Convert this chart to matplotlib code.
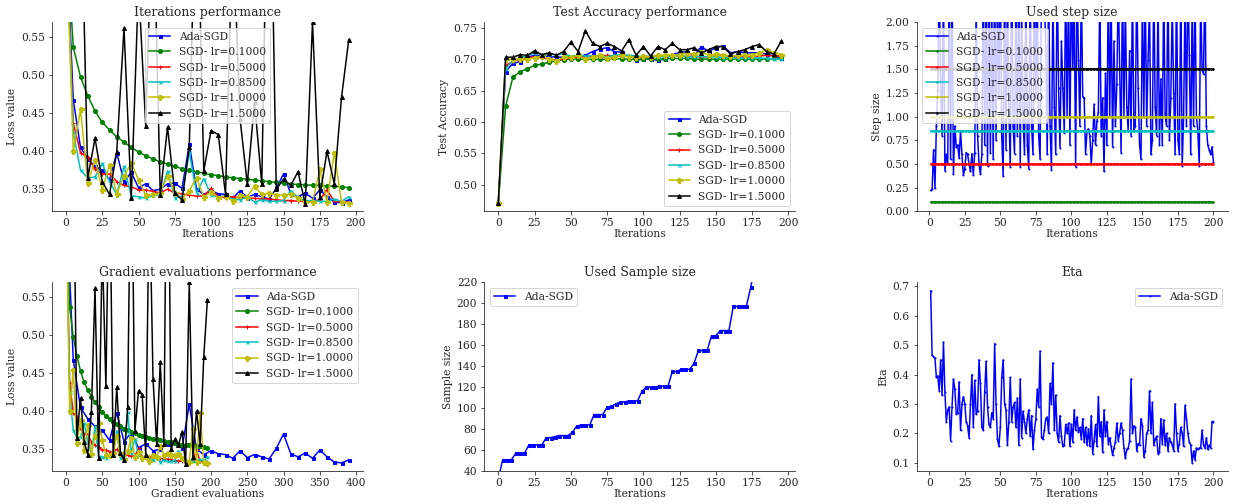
import matplotlib.pyplot as plt
import numpy as np
from matplotlib.ticker import MultipleLocator

plt.rcParams['font.family'] = ['DejaVu Serif']
plt.rcParams['font.size'] = 10.7
plt.rcParams['axes.titlesize'] = 12.5
for key in ['text.color', 'axes.labelcolor', 'xtick.color', 'ytick.color', 'axes.edgecolor']:
    plt.rcParams[key] = '.15'

# ---- data ----
LABELS = ['Ada-SGD', 'SGD- lr=0.1000', 'SGD- lr=0.5000', 'SGD- lr=0.8500',
          'SGD- lr=1.0000', 'SGD- lr=1.5000']
SGD_LRS = [0.1, 0.5, 0.85, 1.0, 1.5]

iterations = list(range(0, 200, 5))
ada_grad_evals = list(range(0, 400, 10))

loss_ada = [0.693, 0.468, 0.405, 0.39, 0.38, 0.375, 0.362, 0.398, 0.36, 0.372,
            0.352, 0.357, 0.348, 0.35, 0.357, 0.358, 0.351, 0.409, 0.35, 0.343,
            0.348, 0.344, 0.343, 0.338, 0.348, 0.339, 0.343, 0.34, 0.337, 0.351,
            0.37, 0.344, 0.34, 0.345, 0.338, 0.349, 0.34, 0.333, 0.332, 0.336]
loss_sgd_01 = [0.693, 0.537, 0.498, 0.473, 0.453, 0.438, 0.428, 0.419, 0.412, 0.405,
               0.399, 0.394, 0.39, 0.386, 0.383, 0.38, 0.377, 0.375, 0.373, 0.371,
               0.369, 0.368, 0.366, 0.365, 0.364, 0.363, 0.362, 0.361, 0.36, 0.359,
               0.358, 0.357, 0.356, 0.356, 0.355, 0.355, 0.354, 0.354, 0.353, 0.352]
loss_sgd_05 = [0.693, 0.437, 0.398, 0.392, 0.376, 0.37, 0.37, 0.36, 0.355, 0.353,
               0.349, 0.349, 0.347, 0.345, 0.35, 0.345, 0.344, 0.342, 0.341, 0.341,
               0.351, 0.34, 0.339, 0.34, 0.339, 0.338, 0.338, 0.337, 0.337, 0.336,
               0.335, 0.335, 0.334, 0.334, 0.334, 0.336, 0.349, 0.334, 0.333, 0.333]
loss_sgd_085 = [0.693, 0.425, 0.375, 0.365, 0.366, 0.384, 0.36, 0.343, 0.38, 0.341,
                0.34, 0.338, 0.342, 0.342, 0.374, 0.339, 0.34, 0.399, 0.345, 0.364,
                0.342, 0.34, 0.341, 0.337, 0.336, 0.34, 0.333, 0.336, 0.334, 0.334,
                0.335, 0.348, 0.339, 0.335, 0.335, 0.334, 0.334, 0.337, 0.334, 0.34]
loss_sgd_1 = [0.693, 0.4, 0.455, 0.358, 0.389, 0.349, 0.382, 0.344, 0.367, 0.385,
              0.362, 0.342, 0.343, 0.345, 0.368, 0.345, 0.337, 0.348, 0.365, 0.34,
              0.346, 0.339, 0.341, 0.334, 0.342, 0.34, 0.354, 0.343, 0.345, 0.342,
              0.342, 0.344, 0.338, 0.333, 0.333, 0.376, 0.333, 0.398, 0.333, 0.332]
loss_sgd_15 = [0.693, 0.95, 0.78, 0.365, 0.417, 0.36, 0.343, 0.399, 0.562, 0.338,
               0.62, 0.433, 0.75, 0.342, 0.432, 0.345, 0.336, 0.405, 0.8, 0.374,
               0.427, 0.422, 0.343, 0.7, 0.443, 0.357, 0.465, 0.357, 0.9, 0.35,
               0.363, 0.355, 0.373, 0.33, 0.57, 0.34, 0.4, 0.357, 0.471, 0.547]

acc_ada = [0.472, 0.68, 0.693, 0.696, 0.703, 0.706, 0.705, 0.704, 0.703, 0.703,
           0.705, 0.705, 0.706, 0.712, 0.716, 0.718, 0.712, 0.711, 0.703, 0.698,
           0.7, 0.7, 0.698, 0.7, 0.708, 0.71, 0.712, 0.706, 0.72, 0.712,
           0.718, 0.721, 0.71, 0.712, 0.71, 0.71, 0.71, 0.708, 0.705, 0.702]
acc_sgd_01 = [0.472, 0.625, 0.671, 0.68, 0.685, 0.69, 0.692, 0.695, 0.697, 0.699,
              0.7, 0.7, 0.7, 0.7, 0.7, 0.7, 0.701, 0.7, 0.7, 0.7,
              0.7, 0.7, 0.7, 0.7, 0.701, 0.701, 0.701, 0.7, 0.7, 0.7,
              0.7, 0.7, 0.7, 0.7, 0.7, 0.7, 0.7, 0.7, 0.701, 0.701]
acc_sgd_05 = [0.472, 0.69, 0.696, 0.7, 0.702, 0.704, 0.702, 0.7, 0.698, 0.7,
              0.702, 0.703, 0.704, 0.705, 0.704, 0.706, 0.705, 0.704, 0.705, 0.704,
              0.703, 0.704, 0.705, 0.704, 0.706, 0.705, 0.704, 0.705, 0.703, 0.704,
              0.705, 0.706, 0.704, 0.703, 0.704, 0.703, 0.705, 0.706, 0.705, 0.705]
acc_sgd_085 = [0.472, 0.685, 0.697, 0.702, 0.705, 0.71, 0.707, 0.708, 0.707, 0.708,
               0.705, 0.706, 0.705, 0.705, 0.705, 0.704, 0.706, 0.707, 0.706, 0.705,
               0.704, 0.705, 0.703, 0.704, 0.705, 0.706, 0.704, 0.703, 0.705, 0.703,
               0.704, 0.702, 0.703, 0.701, 0.702, 0.701, 0.702, 0.701, 0.7, 0.7]
acc_sgd_1 = [0.472, 0.7, 0.7, 0.7, 0.7, 0.702, 0.705, 0.7, 0.697, 0.703,
             0.703, 0.706, 0.7, 0.703, 0.706, 0.701, 0.703, 0.706, 0.703, 0.703,
             0.705, 0.703, 0.706, 0.706, 0.707, 0.707, 0.71, 0.708, 0.712, 0.706,
             0.708, 0.706, 0.705, 0.706, 0.706, 0.707, 0.71, 0.715, 0.71, 0.707]
acc_sgd_15 = [0.472, 0.703, 0.703, 0.707, 0.706, 0.713, 0.707, 0.71, 0.706, 0.712,
              0.727, 0.712, 0.745, 0.725, 0.72, 0.725, 0.72, 0.713, 0.731, 0.706,
              0.72, 0.705, 0.72, 0.715, 0.725, 0.715, 0.715, 0.718, 0.71, 0.715,
              0.72, 0.72, 0.708, 0.712, 0.715, 0.72, 0.723, 0.712, 0.708, 0.728]

step_iters = list(range(1, 201))
step_ada = [0.22, 0.23, 0.65, 0.24, 0.9, 1.28, 2.5, 1.4, 0.8, 2.4,
            0.43, 0.6, 0.5, 2.3, 0.55, 2.6, 0.39, 0.9, 0.68, 0.7,
            0.56, 0.85, 0.6, 0.38, 0.45, 0.62, 0.6, 0.5, 0.42, 0.61,
            0.38, 0.62, 2.2, 0.8, 0.5, 0.39, 0.6, 2.5, 0.7, 2.4,
            0.48, 2.6, 0.62, 2.2, 0.55, 2.5, 0.75, 2.3, 1.2, 2.6,
            0.8, 0.37, 2.5, 0.65, 2.4, 1.1, 0.47, 2.6, 0.9, 0.61,
            2.3, 0.8, 2.5, 0.47, 2.2, 1.0, 0.6, 2.4, 0.7, 0.45,
            2.5, 0.9, 0.6, 2.6, 1.2, 2.3, 0.8, 0.55, 2.5, 2.4,
            2.2, 1.75, 0.6, 2.5, 0.9, 0.44, 2.3, 1.1, 0.6, 2.6,
            1.3, 0.67, 1.8, 1.3, 0.83, 2.5, 1.0, 2.4, 0.7, 2.6,
            1.5, 2.2, 0.47, 2.5, 1.6, 0.9, 2.4, 1.21, 1.2, 0.6,
            0.85, 0.87, 0.8, 0.5, 0.75, 1.13, 0.7, 0.95, 1.05, 2.3,
            0.8, 1.2, 0.42, 1.46, 0.7, 2.5, 1.0, 2.3, 0.68, 1.8,
            0.9, 1.35, 2.4, 1.5, 0.62, 2.5, 1.0, 2.2, 1.1, 0.85,
            1.7, 0.8, 2.4, 0.85, 0.9, 2.5, 1.3, 0.7, 0.55, 2.3,
            1.0, 2.4, 0.9, 1.6, 2.2, 0.6, 0.75, 2.5, 1.1, 0.8,
            2.3, 0.7, 1.4, 0.7, 2.4, 1.0, 0.9, 2.5, 0.75, 1.2,
            2.2, 1.25, 0.6, 2.5, 0.75, 0.6, 2.4, 0.48, 1.0, 2.3,
            0.9, 2.5, 1.65, 0.6, 2.2, 0.9, 2.4, 1.0, 0.85, 0.48,
            2.3, 1.5, 1.45, 2.5, 0.9, 0.7, 0.65, 0.6, 0.68, 0.52]

sample_iters = list(range(0, 198, 3))
sample_size = [33, 51, 51, 51, 57, 57, 57, 65, 65, 65, 65, 72, 72, 73, 74, 74, 74,
               77, 83, 84, 84, 84, 94, 94, 94, 101, 102, 104, 106, 106, 107, 107,
               107, 116, 120, 120, 120, 121, 121, 121, 135, 135, 137, 137, 137, 143,
               155, 155, 155, 169, 169, 174, 174, 174, 197, 197, 197, 197, 215, 236,
               236, 236, 251, 251, 270, 270]

eta = [0.685, 0.465, 0.46, 0.455, 0.39, 0.395, 0.345, 0.45, 0.33, 0.51,
       0.34, 0.24, 0.28, 0.29, 0.175, 0.29, 0.385, 0.35, 0.265, 0.27,
       0.375, 0.21, 0.3, 0.325, 0.3, 0.24, 0.225, 0.185, 0.3, 0.4,
       0.22, 0.38, 0.265, 0.275, 0.45, 0.37, 0.22, 0.21, 0.34, 0.445,
       0.29, 0.23, 0.22, 0.27, 0.25, 0.505, 0.3, 0.18, 0.155, 0.22,
       0.39, 0.45, 0.3, 0.28, 0.16, 0.24, 0.39, 0.24, 0.29, 0.305,
       0.22, 0.32, 0.16, 0.385, 0.185, 0.275, 0.24, 0.2, 0.25, 0.28,
       0.19, 0.26, 0.145, 0.21, 0.25, 0.35, 0.29, 0.48, 0.185, 0.18,
       0.21, 0.25, 0.255, 0.2, 0.37, 0.3, 0.44, 0.21, 0.33, 0.2,
       0.17, 0.26, 0.19, 0.155, 0.16, 0.23, 0.2, 0.235, 0.155, 0.23,
       0.17, 0.28, 0.21, 0.255, 0.205, 0.22, 0.18, 0.25, 0.17, 0.22,
       0.16, 0.215, 0.155, 0.26, 0.13, 0.175, 0.23, 0.155, 0.325, 0.19,
       0.24, 0.135, 0.28, 0.19, 0.24, 0.165, 0.185, 0.155, 0.125, 0.15,
       0.17, 0.235, 0.175, 0.2, 0.235, 0.21, 0.15, 0.115, 0.145, 0.15,
       0.175, 0.385, 0.2, 0.225, 0.22, 0.14, 0.165, 0.16, 0.25, 0.225,
       0.12, 0.14, 0.2, 0.21, 0.345, 0.2, 0.305, 0.16, 0.18, 0.19,
       0.13, 0.135, 0.25, 0.165, 0.245, 0.16, 0.2, 0.14, 0.185, 0.17,
       0.16, 0.14, 0.3, 0.2, 0.14, 0.165, 0.22, 0.2, 0.155, 0.295,
       0.25, 0.2, 0.17, 0.16, 0.1, 0.14, 0.11, 0.15, 0.145, 0.15,
       0.15, 0.21, 0.16, 0.15, 0.185, 0.145, 0.16, 0.15, 0.24, 0.24]

COLORS = ['b', 'g', 'r', 'c', 'y', 'k']
MARKERS = [('s', 3), ('o', 4), ('+', 4), ('x', 3), ('P', 5), ('^', 4)]

loss_sgd = [loss_sgd_01, loss_sgd_05, loss_sgd_085, loss_sgd_1, loss_sgd_15]
acc_sgd = [acc_sgd_01, acc_sgd_05, acc_sgd_085, acc_sgd_1, acc_sgd_15]


def clean(ax, title, xlabel, ylabel):
    ax.set_title(title)
    ax.set_xlabel(xlabel, labelpad=1)
    ax.set_ylabel(ylabel)
    ax.xaxis.set_major_locator(MultipleLocator(25 if ax is not axes[1, 0] else 50))
    ax.spines['top'].set_visible(False)
    ax.spines['right'].set_visible(False)


def plot_runs(ax, ada_x, ada_y, sgd_ys):
    xs = [ada_x] + [iterations] * len(sgd_ys)
    ys = [ada_y] + sgd_ys
    for x, y, c, (m, ms), lab in zip(xs, ys, COLORS, MARKERS, LABELS):
        ax.plot(x, y, c=c, marker=m, markersize=ms, label=lab)


fig, axes = plt.subplots(2, 3, figsize=(1235 / 72, 504 / 72), dpi=72)
fig.subplots_adjust(left=0.042, right=0.994, top=0.956, bottom=0.065,
                    wspace=0.39, hspace=0.376)

ax = axes[0, 0]
plot_runs(ax, iterations, loss_ada, loss_sgd)
ax.set_ylim(0.321, 0.57)
ax.yaxis.set_major_locator(MultipleLocator(0.05))
ax.legend(loc='upper center')
clean(ax, 'Iterations performance', 'Iterations', 'Loss value')

ax = axes[0, 1]
plot_runs(ax, iterations, acc_ada, acc_sgd)
ax.yaxis.set_major_locator(MultipleLocator(0.05))
ax.legend(loc='lower right')
clean(ax, 'Test Accuracy performance', 'Iterations', 'Test Accuracy')

ax = axes[0, 2]
ax.plot(step_iters, step_ada, c='b', marker='.', markersize=2, label=LABELS[0])
for lr, c, lab in zip(SGD_LRS, COLORS[1:], LABELS[1:]):
    ax.plot(step_iters, np.full(len(step_iters), lr), c=c, marker='.',
            markersize=3, label=lab)
ax.set_ylim(0, 2)
ax.yaxis.set_major_locator(MultipleLocator(0.25))
ax.legend(loc='upper left')
clean(ax, 'Used step size', 'Iterations', 'Step size')

ax = axes[1, 0]
plot_runs(ax, ada_grad_evals, loss_ada, loss_sgd)
ax.set_ylim(0.321, 0.57)
ax.yaxis.set_major_locator(MultipleLocator(0.05))
ax.legend(loc='upper right')
clean(ax, 'Gradient evaluations performance', 'Gradient evaluations', 'Loss value')

ax = axes[1, 1]
ax.plot(sample_iters, sample_size, c='b', marker='s', markersize=3, label=LABELS[0])
ax.set_ylim(40, 220)
ax.yaxis.set_major_locator(MultipleLocator(20))
ax.legend(loc='upper left')
clean(ax, 'Used Sample size', 'Iterations', 'Sample size')

ax = axes[1, 2]
ax.plot(step_iters, eta, c='b', marker='.', markersize=2, label=LABELS[0])
ax.yaxis.set_major_locator(MultipleLocator(0.1))
ax.legend(loc='upper right')
clean(ax, 'Eta', 'Iterations', 'Eta')

fig.savefig('out.png', dpi=72)
